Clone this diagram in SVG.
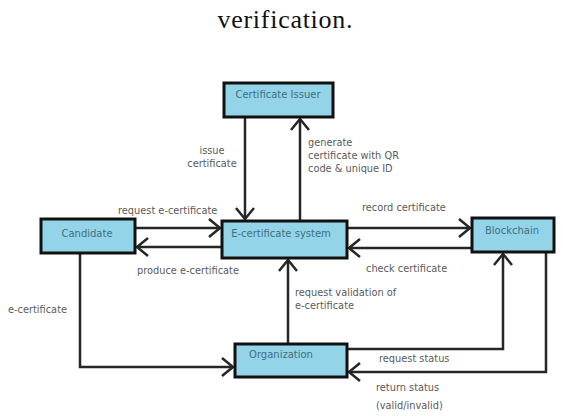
<svg xmlns="http://www.w3.org/2000/svg" width="563" height="416" viewBox="0 0 563 416">
<style>
.box{fill:#93d4e8;stroke:#111;stroke-width:3}
.bt{font-family:"DejaVu Sans",sans-serif;font-size:10px;fill:#3f6f80}
.lb{font-family:"DejaVu Sans",sans-serif;font-size:9.8px;fill:#5a5a5a}
.ln{fill:none;stroke:#262626;stroke-width:2.5;marker-end:url(#ah)}
.title{font-family:"Liberation Serif",serif;font-size:26px;fill:#111}
</style>
<defs>
<marker id="ah" markerUnits="userSpaceOnUse" markerWidth="30" markerHeight="30" viewBox="-15 -15 30 30" refX="0" refY="0" orient="auto">
<polyline points="-11,-9 0,0 -11,9" fill="none" stroke="#262626" stroke-width="2.5"/>
</marker>
</defs>
<rect width="563" height="416" fill="#fff"/>
<text class="title" x="285" y="28" text-anchor="middle" textLength="135" lengthAdjust="spacing">verification.</text>

<g id="connectors">
<line class="ln" x1="245" y1="118" x2="245" y2="219"/>
<line class="ln" x1="300" y1="221" x2="300" y2="119"/>
<line class="ln" x1="136" y1="228" x2="220" y2="228"/>
<line class="ln" x1="222" y1="247" x2="137" y2="247"/>
<line class="ln" x1="348" y1="228" x2="470" y2="228"/>
<line class="ln" x1="472" y1="248" x2="349" y2="248"/>
<polyline class="ln" points="80,254 80,367 233,367"/>
<line class="ln" x1="288" y1="344" x2="288" y2="260"/>
<polyline class="ln" points="348,349 503,349 503,254"/>
<polyline class="ln" points="546,253 546,372 349,372"/>
</g>

<g id="certificate-issuer">
<rect class="box" x="224" y="83" width="109" height="34"/>
<text class="bt" x="278" y="98" text-anchor="middle">Certificate Issuer</text>
</g>
<g id="candidate">
<rect class="box" x="41" y="219" width="94" height="34"/>
<text class="bt" x="87" y="237" text-anchor="middle">Candidate</text>
</g>
<g id="e-certificate-system">
<rect class="box" x="222" y="221" width="125" height="37"/>
<text class="bt" x="281" y="237" text-anchor="middle">E-certificate system</text>
</g>
<g id="blockchain">
<rect class="box" x="472" y="218" width="82" height="34"/>
<text class="bt" x="512" y="234" text-anchor="middle">Blockchain</text>
</g>
<g id="organization">
<rect class="box" x="235" y="344" width="112" height="33"/>
<text class="bt" x="281" y="358" text-anchor="middle">Organization</text>
</g>

<g id="labels">
<text class="lb" x="212" y="154" text-anchor="middle">issue</text>
<text class="lb" x="212" y="167" text-anchor="middle">certificate</text>
<text class="lb" x="308" y="146">generate</text>
<text class="lb" x="308" y="159">certificate with QR</text>
<text class="lb" x="308" y="172">code &amp; unique ID</text>
<text class="lb" x="118" y="214">request e-certificate</text>
<text class="lb" x="137" y="274">produce e-certificate</text>
<text class="lb" x="362" y="211">record certificate</text>
<text class="lb" x="366" y="272">check certificate</text>
<text class="lb" x="8" y="313">e-certificate</text>
<text class="lb" x="295" y="296">request validation of</text>
<text class="lb" x="295" y="309">e-certificate</text>
<text class="lb" x="379" y="362">request status</text>
<text class="lb" x="376" y="391">return status</text>
<text class="lb" x="376" y="409">(valid/invalid)</text>
</g>
</svg>
